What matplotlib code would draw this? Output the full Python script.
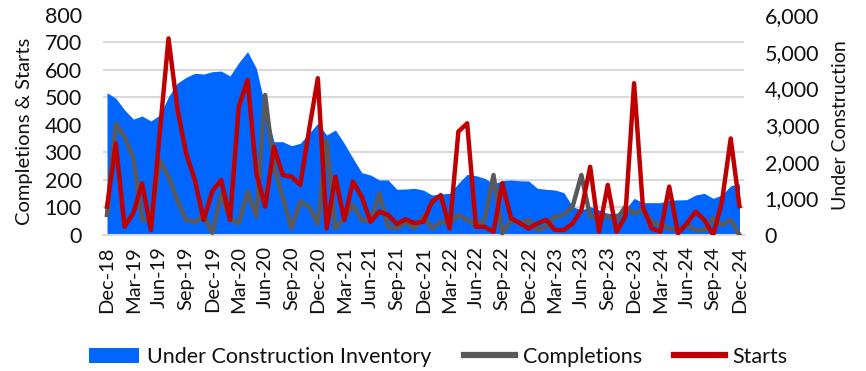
import numpy as np
import pandas as pd
import matplotlib
matplotlib.use("Agg")
import matplotlib.pyplot as plt
from matplotlib.ticker import FuncFormatter, MultipleLocator
from matplotlib.patches import Patch
from matplotlib.lines import Line2D

plt.rcParams['font.family'] = ['Lato', 'DejaVu Sans']

months = pd.date_range("2018-12-01", "2024-12-01", freq="MS")
month_labels = [d.strftime("%b-%y") for d in months]

under_construction = [3880, 3730, 3410, 3160, 3245, 3110, 3270, 3770, 4140, 4300, 4410, 4390,
                      4455, 4470, 4340, 4700, 5000, 4545, 3500, 2545, 2545, 2436, 2500, 2773,
                      3045, 2727, 2864, 2500, 2091, 1700, 1636, 1500, 1500, 1245, 1255, 1273,
                      1227, 1091, 1118, 1136, 1409, 1655, 1618, 1545, 1391, 1482, 1500, 1480,
                      1473, 1273, 1245, 1227, 1155, 773, 682, 773, 682, 591, 591, 700,
                      1000, 882, 882, 882, 955, 955, 964, 1091, 1136, 1000, 1091, 1345,
                      1391]
completions = [73, 405, 357, 280, 55, 60, 272, 212, 127, 55, 48, 70,
               8, 150, 60, 42, 158, 67, 509, 248, 139, 24, 121, 103,
               40, 345, 24, 60, 109, 55, 50, 152, 30, 24, 48, 24,
               67, 24, 48, 43, 73, 55, 36, 55, 218, 6, 55, 43,
               55, 18, 30, 67, 73, 103, 218, 67, 67, 67, 55, 103,
               79, 90, 48, 36, 24, 18, 36, 18, 18, 61, 36, 55,
               0]
starts = [103, 333, 30, 80, 188, 18, 370, 715, 462, 297, 200, 55,
          160, 200, 55, 467, 564, 224, 103, 321, 218, 212, 182, 382,
          570, 24, 212, 55, 194, 139, 48, 85, 73, 40, 57, 43,
          48, 121, 145, 24, 376, 406, 30, 30, 12, 188, 61, 43,
          24, 42, 55, 18, 18, 42, 91, 248, 12, 182, 12, 67,
          552, 103, 24, 12, 176, 6, 42, 85, 55, 0, 121, 351,
          105]

x = np.arange(len(month_labels))
txt = '#111111'

fig = plt.figure(figsize=(8.66, 3.71), dpi=100)
ax = fig.add_axes([0.1185, 0.3666, 0.7405, 0.593])
ax2 = ax.twinx()
ax.set_zorder(ax2.get_zorder() + 1)
ax.patch.set_visible(False)

# area on right axis
ax2.fill_between(x, 0, under_construction, color='#0066FF', linewidth=0, zorder=2)
ax2.set_ylim(0, 6000)
ax2.yaxis.set_major_locator(MultipleLocator(1000))
ax2.yaxis.set_minor_locator(MultipleLocator(750))
ax2.set_axisbelow(True)
ax2.grid(which='minor', axis='y', color='#d9d9d9', linewidth=1.5)
ax2.tick_params(axis='y', which='both', length=0)
ax2.tick_params(axis='y', which='major', labelsize=15.5, labelcolor=txt, pad=15)
ax2.yaxis.set_major_formatter(FuncFormatter(lambda v, p: f"{int(v):,}"))
ax2.set_ylabel("Under Construction", fontsize=14, color=txt, labelpad=9)

ax.plot(x, completions, color='#595959', linewidth=3.2, solid_joinstyle='round', zorder=3)
ax.plot(x, starts, color='#C00000', linewidth=3.2, solid_joinstyle='round', zorder=4)
ax.set_ylim(0, 800)
ax.set_xlim(-0.5, len(x) - 0.5)
ax.yaxis.set_major_locator(MultipleLocator(100))
ax.tick_params(axis='y', length=0, labelsize=15.5, labelcolor=txt, pad=15)
ax.set_ylabel("Completions & Starts", fontsize=14.5, color=txt, labelpad=5)
ax.yaxis.set_label_coords(-0.109, 0.47)

ax.set_xticks(x[::3])
ax.set_xticklabels(month_labels[::3], rotation=90, fontsize=14.5, color=txt)
ax.tick_params(axis='x', length=0, pad=8)

for a in (ax, ax2):
    for s in a.spines.values():
        s.set_visible(False)
ax2.spines['bottom'].set_visible(True)
ax2.spines['bottom'].set_color('#d9d9d9')
ax2.spines['bottom'].set_linewidth(1.5)

handles = [Patch(facecolor='#0066FF', edgecolor='none'),
           Line2D([], [], color='#595959', linewidth=4.5),
           Line2D([], [], color='#C00000', linewidth=4.5)]
labels = ["Under Construction Inventory", "Completions", "Starts"]
fig.legend(handles, labels, loc='center', bbox_to_anchor=(0.506, 0.038), ncol=3,
           frameon=False, fontsize=15.5, handlelength=2.35, handletextpad=0.37,
           columnspacing=1.5, labelcolor=txt)

fig.savefig("out.png", dpi=100)
